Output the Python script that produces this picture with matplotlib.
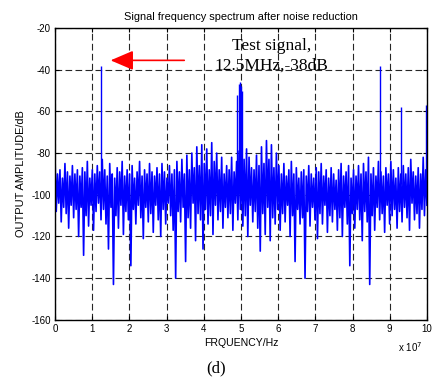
import numpy as np
import matplotlib
matplotlib.use('Agg')
import matplotlib.pyplot as plt

plt.rcParams['font.family'] = ['Liberation Sans', 'DejaVu Sans']
plt.rcParams['axes.unicode_minus'] = False

# Noise band: top and bottom of each zig-zag (dB)
noise_hi = [-82, -90, -88, -92, -85, -89, -91, -86, -90, -88,
            -91, -87, -89, -84, -92, -88, -90, -86, -89, -83,
            -88, -91, -85, -90, -92, -87, -89, -84, -91, -88,
            -90, -86, -92, -89, -84, -91, -88, -90, -85, -89,
            -91, -87, -90, -85, -89, -92, -86, -90, -88, -84,
            -89, -83, -90, -81, -88, -80, -87, -77, -86, -76,
            -85, -78, -88, -75, -84, -80, -88, -82, -90, -86,
            -88, -82, -89, -84, -79, -86, -83, -78, -82, -87,
            -88, -81, -86, -77, -85, -74, -83, -76, -87, -80,
            -86, -90, -85, -91, -88, -84, -90, -87, -92, -89,
            -88, -91, -86, -90, -92, -87, -89, -85, -91, -88,
            -92, -87, -90, -93, -88, -85, -91, -89, -86, -92,
            -88, -91, -86, -90, -85, -89, -82, -90, -87, -91,
            -84, -89, -91, -87, -90, -84, -88, -92, -87, -90,
            -86, -90, -87, -83, -89, -91, -87, -90, -82, -88]
noise_lo = [-108, -104, -113, -106, -109, -116, -105, -111, -107, -120,
            -106, -129, -110, -115, -105, -117, -108, -104, -112, -107,
            -114, -126, -106, -143, -110, -116, -105, -119, -108, -112,
            -134, -107, -114, -105, -111, -121, -106, -113, -109, -118,
            -105, -112, -120, -107, -114, -104, -110, -117, -140, -108,
            -113, -106, -132, -111, -116, -104, -122, -109, -112, -126,
            -107, -114, -110, -119, -105, -112, -108, -116, -106, -111,
            -109, -117, -104, -112, -107, -115, -110, -120, -105, -113,
            -108, -116, -127, -109, -119, -106, -122, -111, -114, -107,
            -117, -109, -113, -105, -120, -110, -132, -107, -114, -111,
            -140, -108, -115, -106, -112, -121, -109, -114, -105, -118,
            -110, -113, -107, -117, -111, -120, -106, -114, -134, -109,
            -116, -107, -112, -122, -108, -113, -143, -110, -117, -106,
            -112, -109, -118, -105, -114, -110, -107, -116, -108, -113,
            -106, -111, -117, -104, -112, -109, -116, -107, -110, -105]

# Discrete spectral lines (Hz, dB)
spike_f = [1.25e7, 4.90e7, 4.94e7, 4.97e7, 5.00e7, 5.03e7, 8.75e7, 9.30e7, 9.98e7]
spike_db = [-38, -52, -47, -46, -48, -50, -38, -58, -57]
spike_base = -95

trace = np.column_stack([noise_hi, noise_lo]).ravel()
freq = np.linspace(0, 1e8, len(trace))

serif = ['Liberation Serif', 'DejaVu Serif']

fig = plt.figure(figsize=(4.33, 3.79), dpi=100)
ax = fig.add_axes([0.127, 0.156, 0.859, 0.770])

ax.plot(freq, trace, color='#0000ff', lw=1.2)
ax.vlines(spike_f, spike_base, spike_db, color='#0000ff', lw=1.0)

ax.set_xlim(0, 1e8)
ax.set_ylim(-160, -20)
ax.set_xticks(np.arange(0, 1.01e8, 1e7))
ax.set_xticklabels([str(i) for i in range(11)])
ax.set_yticks(np.arange(-160, -19, 20))
ax.grid(True, color='0.15', ls=(0, (6, 3)), lw=0.8)
ax.tick_params(direction='in', top=True, right=True, labelsize=7, length=3, pad=3)
for s in ax.spines.values():
    s.set_linewidth(1.0)

ax.set_title('Signal frequency spectrum after noise reduction', fontsize=7.9, pad=6)
ax.set_xlabel('FRQUENCY/Hz', fontsize=7.6, labelpad=3)
ax.set_ylabel('OUTPUT AMPLITUDE/dB', fontsize=7.9, labelpad=4)
fig.text(0.948, 0.072, r'x 10$^7$', fontsize=7, ha='center')
fig.text(0.5, 0.018, '(d)', fontsize=12, family=serif, ha='center')

ax.annotate('', xy=(1.42e7, -35.5), xytext=(3.55e7, -35.5),
            arrowprops=dict(arrowstyle='-|>,head_length=1.4,head_width=0.6',
                            color='red', lw=1.2))
ax.text(5.83e7, -33.5, 'Test signal,\n12.5MHz,-38dB', fontsize=12.5, family=serif,
        ha='center', va='center', linespacing=1.3)

fig.savefig('out.png', dpi=100)
